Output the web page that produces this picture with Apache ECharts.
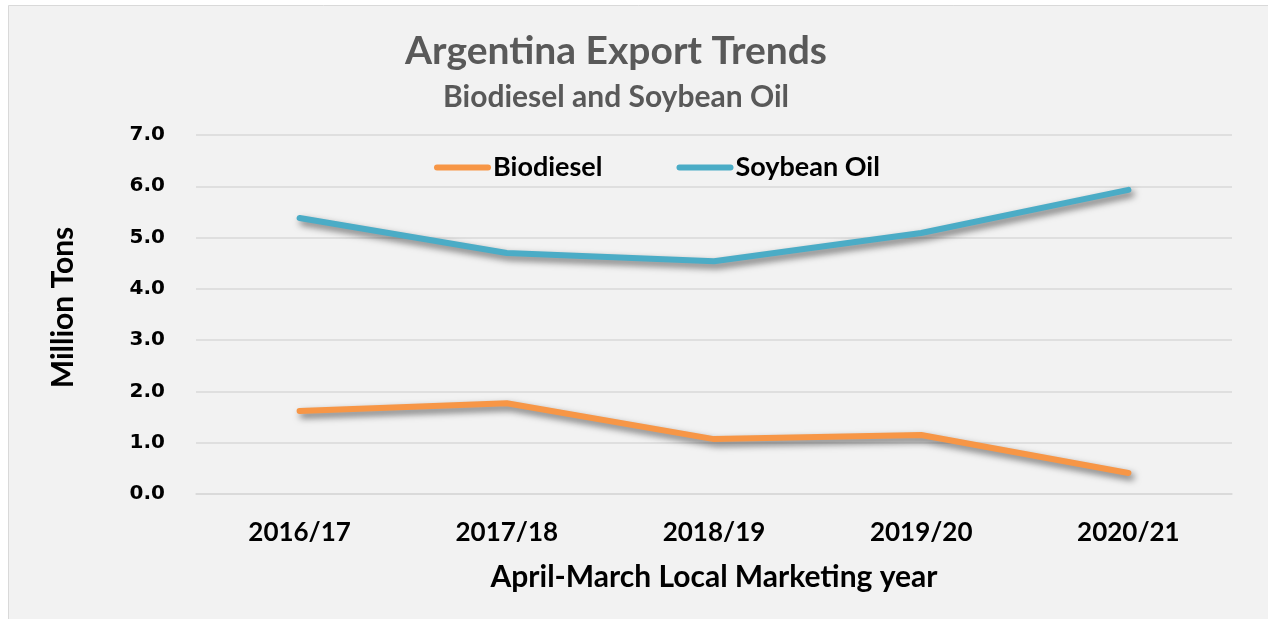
<!DOCTYPE html>
<html>
<head>
<meta charset="utf-8">
<script src="https://cdn.jsdelivr.net/npm/echarts@6/dist/echarts.min.js"></script>
<style>
  html, body { margin: 0; padding: 0; background: #ffffff; }
  #chart { width: 1268px; height: 619px; }
</style>
</head>
<body>
<div id="chart"></div>
<script>
var years = ['2016/17', '2017/18', '2018/19', '2019/20', '2020/21'];
var biodiesel = [1.62, 1.77, 1.07, 1.15, 0.41];
var soybeanOil = [5.38, 4.70, 4.54, 5.09, 5.93];

var chart = echarts.init(document.getElementById('chart'));

var shadow = {
	shadowColor: 'rgba(0,0,0,0.55)',
	shadowBlur: 7,
	shadowOffsetX: 3,
	shadowOffsetY: 4
};

// capsule shaped legend key, like a thick line with round caps
var capsule = 'path://M3,0 L54,0 A3,3 0 0 1 54,6 L3,6 A3,3 0 0 1 3,0 Z';

option = {
	backgroundColor: '#ffffff',
	graphic: [{
		type: 'rect',
		z: -10,
		shape: { x: 8.5, y: 5.5, width: 1300, height: 700 },
		style: { fill: '#f2f2f2', stroke: '#d9d9d9', lineWidth: 1 }
	}],
	title: {
		text: 'Argentina Export Trends',
		subtext: 'Biodiesel and Soybean Oil',
		left: 611,
		textAlign: 'center',
		top: 27,
		itemGap: 11,
		textStyle: { fontFamily: 'Lato', fontWeight: 'bold', fontSize: 39, color: '#595959' },
		subtextStyle: { fontFamily: 'Lato', fontWeight: 'bold', fontSize: 30, color: '#595959' }
	},
	legend: {
		data: [
			{ name: 'Biodiesel', icon: capsule },
			{ name: 'Soybean Oil', icon: capsule }
		],
		left: 429,
		top: 149,
		itemWidth: 57,
		itemHeight: 7,
		itemGap: 74,
		textStyle: { fontFamily: 'Lato', fontWeight: 'bold', fontSize: 27, color: '#000000', padding: [0, 0, 0, -3] }
	},
	grid: {
		left: 196,
		right: 36,
		top: 135,
		bottom: 125
	},
	xAxis: {
		type: 'category',
		data: years,
		name: 'April-March Local Marketing year',
		nameLocation: 'middle',
		nameGap: 68,
		nameTextStyle: { fontFamily: 'Lato', fontWeight: 'bold', fontSize: 30, color: '#000000' },
		axisLine: { lineStyle: { color: '#d9d9d9', width: 1.5 } },
		axisTick: { show: false },
		axisLabel: { margin: 26, fontFamily: 'Lato', fontWeight: 'bold', fontSize: 26, color: '#000000' }
	},
	yAxis: {
		type: 'value',
		min: 0,
		max: 7,
		interval: 1,
		name: 'Million Tons',
		nameLocation: 'middle',
		nameGap: 118,
		nameTextStyle: { fontFamily: 'Lato', fontWeight: 'bold', fontSize: 30, color: '#000000', padding: [0, 0, 0, 14] },
		axisLine: { show: false },
		axisTick: { show: false },
		splitLine: { lineStyle: { color: '#d9d9d9', width: 1.5 } },
		axisLabel: {
			margin: 31,
			fontFamily: 'DejaVu Sans',
			fontWeight: 'bold',
			fontSize: 20,
			color: '#000000',
			formatter: function (v) { return v.toFixed(1); }
		}
	},
	series: [
	{
		name: 'Biodiesel',
		type: 'line',
		data: biodiesel,
		symbol: 'none',
		color: '#f79646',
		lineStyle: Object.assign({ width: 6, color: '#f79646', cap: 'round', join: 'round' }, shadow)
	},
	{
		name: 'Soybean Oil',
		type: 'line',
		data: soybeanOil,
		symbol: 'none',
		color: '#4bacc6',
		lineStyle: Object.assign({ width: 6, color: '#4bacc6', cap: 'round', join: 'round' }, shadow)
	}
	]
};

chart.setOption(option);
</script>
</body>
</html>
